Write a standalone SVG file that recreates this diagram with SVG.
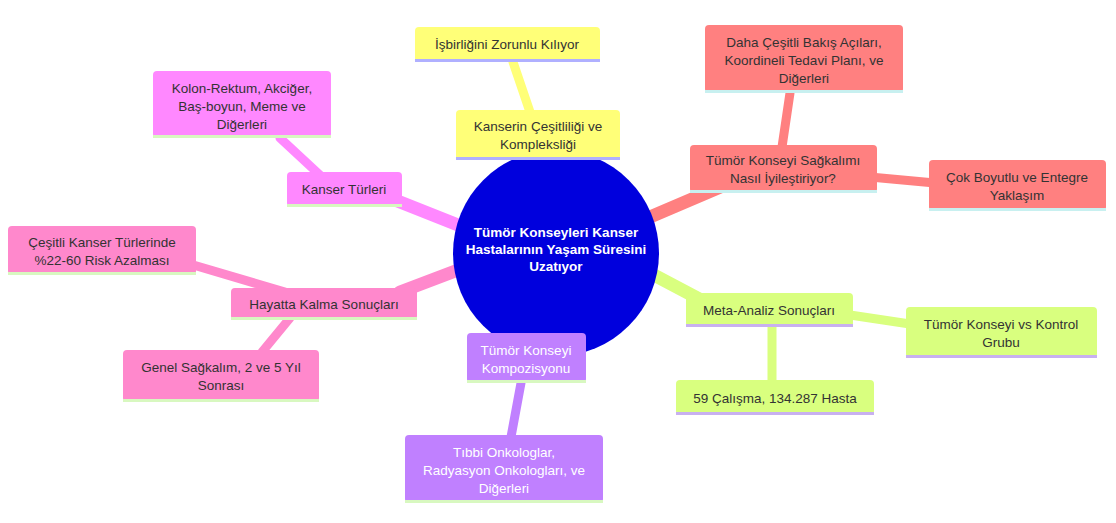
<svg xmlns="http://www.w3.org/2000/svg" width="1116" height="523" viewBox="0 0 1116 523">
<style>
text{font-family:"Liberation Sans",Arial,sans-serif;font-size:13.5px;fill:#333;text-anchor:middle}
.e{fill:none;stroke-linecap:round}
.y{fill:#ffff78}.s{fill:#ff8080}.g{fill:#d9ff7f}.p{fill:#c080ff}.r{fill:#ff88cc}.m{fill:#ff88ff}
.p+text,.p~text{fill:#fff}
</style>
<rect width="1116" height="523" fill="#fff"/>
<g id="connectors">
<line class="e" x1="545" y1="165" x2="540" y2="150" stroke="#ffff78" stroke-width="14"/>
<line class="e" x1="513" y1="62" x2="530" y2="112" stroke="#ffff78" stroke-width="9"/>
<line class="e" x1="650" y1="217" x2="725" y2="185" stroke="#ff8080" stroke-width="13"/>
<line class="e" x1="790" y1="93" x2="782" y2="147" stroke="#ff8080" stroke-width="9"/>
<line class="e" x1="870" y1="177" x2="935" y2="183" stroke="#ff8080" stroke-width="9"/>
<line class="e" x1="652" y1="274" x2="705" y2="302" stroke="#d9ff7f" stroke-width="13"/>
<line class="e" x1="850" y1="315" x2="910" y2="324" stroke="#d9ff7f" stroke-width="9"/>
<line class="e" x1="772" y1="325" x2="772" y2="382" stroke="#d9ff7f" stroke-width="9"/>
<line class="e" x1="540" y1="350" x2="530" y2="340" stroke="#c080ff" stroke-width="13"/>
<line class="e" x1="521" y1="383" x2="511" y2="437" stroke="#c080ff" stroke-width="9"/>
<line class="e" x1="458" y1="270" x2="400" y2="292" stroke="#ff88cc" stroke-width="13"/>
<line class="e" x1="285" y1="292" x2="190" y2="264" stroke="#ff88cc" stroke-width="9"/>
<line class="e" x1="290" y1="318" x2="262" y2="352" stroke="#ff88cc" stroke-width="9"/>
<line class="e" x1="458" y1="225" x2="395" y2="200" stroke="#ff88ff" stroke-width="13"/>
<line class="e" x1="322" y1="177" x2="280" y2="138" stroke="#ff88ff" stroke-width="9"/>
</g>
<g id="root"><circle cx="556" cy="253" r="103" fill="#0000dd"/>
<text x="556" y="237" style="fill:#fff;font-weight:bold">Tümör Konseyleri Kanser</text>
<text x="556" y="254" style="fill:#fff;font-weight:bold">Hastalarının Yaşam Süresini</text>
<text x="556" y="271" style="fill:#fff;font-weight:bold">Uzatıyor</text></g>
<g id="n1"><rect class="y" x="456" y="110" width="164" height="50" rx="4"/><rect x="456" y="157" width="164" height="3" fill="#b0b0ff"/>
<text x="538" y="131">Kanserin Çeşitliliği ve</text><text x="538" y="149">Kompleksliği</text></g>
<g id="n2"><rect class="y" x="415" y="27" width="185" height="35" rx="4"/><rect x="415" y="59" width="185" height="3" fill="#b0b0ff"/>
<text x="507" y="49">İşbirliğini Zorunlu Kılıyor</text></g>
<g id="n3"><rect class="s" x="690" y="145" width="187" height="48" rx="4"/><rect x="690" y="190" width="187" height="3" fill="#c8f0f0"/>
<text x="783" y="165">Tümör Konseyi Sağkalımı</text><text x="783" y="183">Nasıl İyileştiriyor?</text></g>
<g id="n4"><rect class="s" x="705" y="25" width="198" height="68" rx="4"/><rect x="705" y="90" width="198" height="3" fill="#c8f0f0"/>
<text x="804" y="47">Daha Çeşitli Bakış Açıları,</text><text x="804" y="65">Koordineli Tedavi Planı, ve</text><text x="804" y="83">Diğerleri</text></g>
<g id="n5"><rect class="s" x="929" y="160" width="177" height="51" rx="4"/><rect x="929" y="208" width="177" height="3" fill="#c8f0f0"/>
<text x="1017" y="182">Çok Boyutlu ve Entegre</text><text x="1017" y="200">Yaklaşım</text></g>
<g id="n6"><rect class="g" x="686" y="293" width="167" height="34" rx="4"/><rect x="686" y="324" width="167" height="3" fill="#c8b0f0"/>
<text x="769" y="315">Meta-Analiz Sonuçları</text></g>
<g id="n7"><rect class="g" x="906" y="307" width="191" height="51" rx="4"/><rect x="906" y="355" width="191" height="3" fill="#c8b0f0"/>
<text x="1001" y="329">Tümör Konseyi vs Kontrol</text><text x="1001" y="347">Grubu</text></g>
<g id="n8"><rect class="g" x="676" y="380" width="198" height="35" rx="4"/><rect x="676" y="412" width="198" height="3" fill="#c8b0f0"/>
<text x="775" y="403">59 Çalışma, 134.287 Hasta</text></g>
<g id="n9"><rect class="p" x="467" y="333" width="119" height="50" rx="4"/><rect x="467" y="380" width="119" height="3" fill="#d8f8c0"/>
<text x="526" y="355" style="fill:#fff">Tümör Konseyi</text><text x="526" y="373" style="fill:#fff">Kompozisyonu</text></g>
<g id="n10"><rect class="p" x="405" y="435" width="198" height="68" rx="4"/><rect x="405" y="500" width="198" height="3" fill="#d8f8c0"/>
<text x="504" y="457" style="fill:#fff">Tıbbi Onkologlar,</text><text x="504" y="475" style="fill:#fff">Radyasyon Onkologları, ve</text><text x="504" y="493" style="fill:#fff">Diğerleri</text></g>
<g id="n11"><rect class="r" x="231" y="288" width="186" height="32" rx="4"/><rect x="231" y="317" width="186" height="3" fill="#d8f8c0"/>
<text x="324" y="309">Hayatta Kalma Sonuçları</text></g>
<g id="n12"><rect class="r" x="8" y="226" width="188" height="49" rx="4"/><rect x="8" y="272" width="188" height="3" fill="#d8f8c0"/>
<text x="102" y="247">Çeşitli Kanser Türlerinde</text><text x="102" y="265">%22-60 Risk Azalması</text></g>
<g id="n13"><rect class="r" x="123" y="350" width="196" height="52" rx="4"/><rect x="123" y="399" width="196" height="3" fill="#d8f8c0"/>
<text x="221" y="372">Genel Sağkalım, 2 ve 5 Yıl</text><text x="221" y="390">Sonrası</text></g>
<g id="n14"><rect class="m" x="287" y="172" width="115" height="35" rx="4"/><rect x="287" y="204" width="115" height="3" fill="#d8f8c0"/>
<text x="344" y="194">Kanser Türleri</text></g>
<g id="n15"><rect class="m" x="153" y="71" width="178" height="67" rx="4"/><rect x="153" y="135" width="178" height="3" fill="#d8f8c0"/>
<text x="242" y="93">Kolon-Rektum, Akciğer,</text><text x="242" y="111">Baş-boyun, Meme ve</text><text x="242" y="129">Diğerleri</text></g>
</svg>
